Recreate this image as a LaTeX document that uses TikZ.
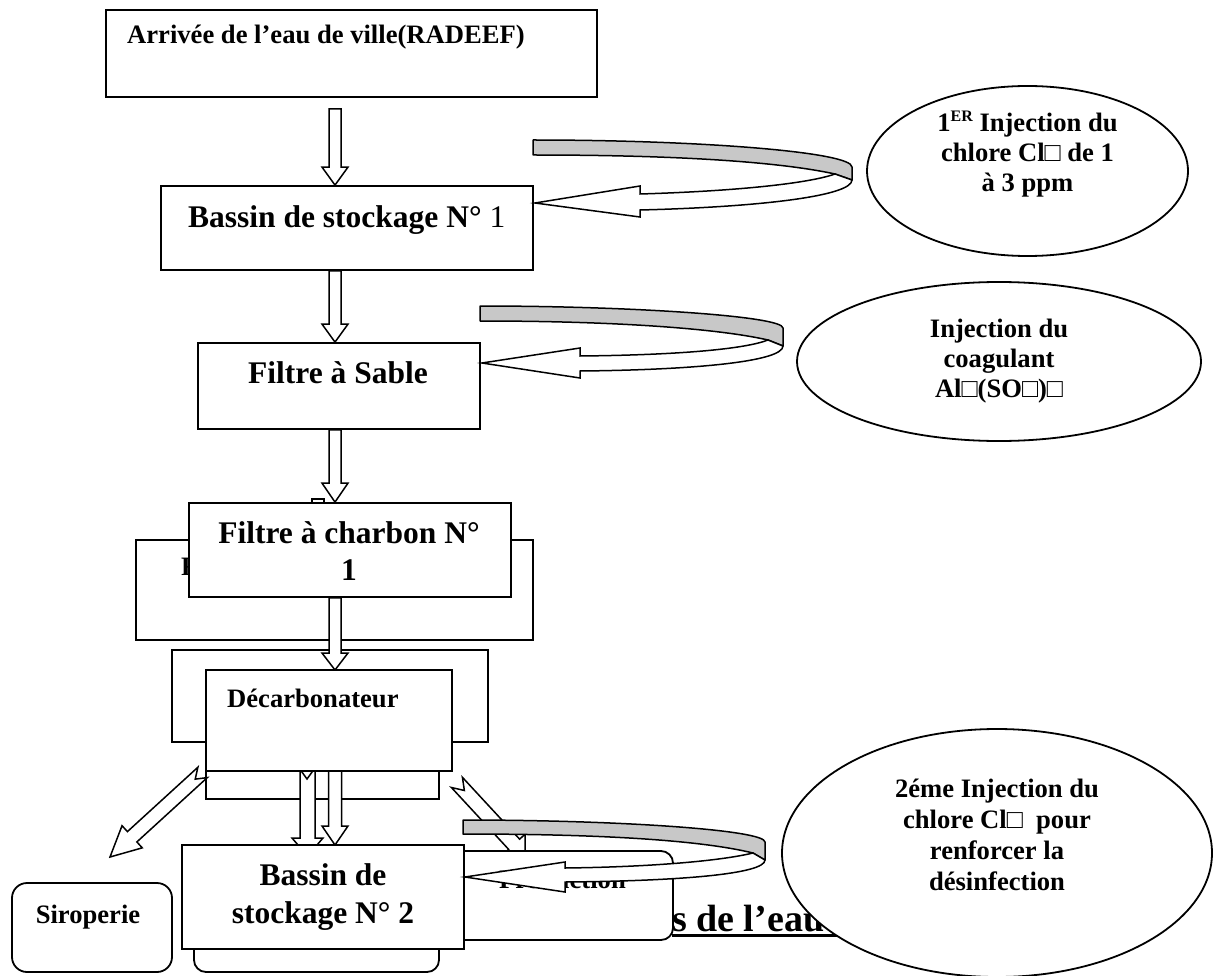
\documentclass[tikz,border=0pt]{standalone}
\usepackage{fontspec}
\setmainfont{Liberation Serif}
\usetikzlibrary{calc,shapes.geometric}
\definecolor{ribbon}{RGB}{200,200,200}
\newcommand\szS{\fontsize{26.6}{30}\selectfont}
\newcommand\szM{\fontsize{31.5}{37}\selectfont}
\newcommand\szT{\fontsize{38}{42}\selectfont}
\tikzset{
  box/.style={draw=black, fill=white, line width=1.8pt, inner sep=0pt, rectangle},
  rbox/.style={box, rounded corners=12pt},
  oval/.style={draw=black, fill=white, line width=1.8pt, ellipse, inner sep=0pt},
  blk/.style={draw=black, fill=white, line width=1.5pt, line join=miter},
  band/.style={draw=black, fill=ribbon, line width=1.5pt, line join=round},
  lbl/.style={inner sep=0pt, font=\bfseries\szS},
}
% hollow block arrow: [style]{tail}{tip}{shaft half width}{head half width}{head length}{notch depth}
\newcommand\blockarrow[7][blk]{%
  \draw[#1] let \p1=#2, \p2=#3, \n1={atan2(\y2-\y1,\x2-\x1)} in
    (\p2)
    -- ($(\p2)+(\n1:-#6pt)+(\n1+90:#5pt)$)
    -- ($(\p2)+(\n1:-#6pt)+(\n1+90:#4pt)$)
    -- ($(\p1)+(\n1+90:#4pt)$)
    -- ($(\p1)+(\n1:#7pt)$)
    -- ($(\p1)+(\n1-90:#4pt)$)
    -- ($(\p2)+(\n1:-#6pt)+(\n1-90:#4pt)$)
    -- ($(\p2)+(\n1:-#6pt)+(\n1-90:#5pt)$)
    -- cycle;}
\begin{document}
\begin{tikzpicture}[x=1pt,y=1pt]
\useasboundingbox (0,0) rectangle (1217,-976);
\fill[white] (0,0) rectangle (1217,-976);
\coordinate (colA) at (335,0);
\coordinate (colB) at (307.5,0);
\coordinate (colC) at (307,0);
\coordinate (decC) at (329,-720.5);
\coordinate (decSW) at (206,-771);
\coordinate (decSE) at (452,-771);
\coordinate (prodNW) at (440,-851);

% title (mostly hidden)
\node[lbl, anchor=base west, font=\bfseries\szT] (title) at (672,-931) {s de l’eau};
\draw[line width=3pt] ($(title.base west)+(0,-4)$) -- ++(200,0);

% Arrivee
\node[box, minimum width=491pt, minimum height=87pt] (arrivee) at (351.5,-53.5) {};
\node[lbl, anchor=base west] (t-arrivee) at (127,-44) {Arrivée de l’eau de ville(RADEEF)};

% Bassin 1
\node[box, minimum width=372pt, minimum height=84pt] (bassin1) at (347,-228) {};
\node[lbl, anchor=base west, font=\bfseries\szM] (t-bassin1) at (188,-228) {Bassin de stockage N°\mdseries\ 1};
\blockarrow{($(arrivee.south -| colA)+(0,-11)$)}{(bassin1.north -| colA)}{6}{13}{18}{0}

% injection 1 curved arrow
\draw[band] (533,-140) .. controls (700,-140) and (852,-152) .. (852,-167) -- (852,-180) -- (835,-174) .. controls (780,-162) and (680,-155) .. (533,-155) -- cycle;
\draw[blk] (852,-180) -- (835,-174) .. controls (810,-183) and (740,-191) .. (640,-194) -- (640,-186) -- (535,-203) -- (640,-217) -- (640,-210) .. controls (760,-207) and (852,-196) .. (852,-180) -- cycle;

% Filtre a sable
\node[box, minimum width=282pt, minimum height=86pt] (sable) at (339,-386) {};
\node[lbl, anchor=base west, font=\bfseries\szM] (t-sable) at (248,-383) {Filtre à Sable};
\blockarrow{(bassin1.south -| colA)}{(sable.north -| colA)}{6}{13}{18}{0}

% injection 2 curved arrow
\draw[band] (480,-306) .. controls (630,-306) and (783,-316) .. (783,-328) -- (783,-346) -- (768,-340) .. controls (720,-329) and (620,-321) .. (480,-321) -- cycle;
\draw[blk] (783,-346) -- (768,-340) .. controls (745,-349) and (680,-355) .. (580,-356) -- (580,-348) -- (482,-363) -- (580,-378) -- (580,-371) .. controls (690,-370) and (783,-362) .. (783,-346) -- cycle;

% hidden box behind charbon
\node[box, minimum width=397pt, minimum height=100pt] (hidF) at (334.5,-590) {};
\node[lbl, anchor=base west] (t-hidF) at (181,-575) {F};
\draw[blk] (312,-499) rectangle (324,-515);

% Filtre a charbon
\node[box, minimum width=322pt, minimum height=94pt] (charbon) at (350,-550) {};
\node[lbl, anchor=base, font=\bfseries\szM] (t-charbon) at (349,-543) {\begin{tabular}[t]{@{}c@{}}Filtre à charbon N°\\1\end{tabular}};
\blockarrow{(sable.south -| colA)}{(charbon.north -| colA)}{6}{13}{19}{0}

% boxes behind decarbonateur
\node[box, minimum width=316pt, minimum height=92pt] (hid2) at (330,-696) {};
\blockarrow{(charbon.south -| colA)}{($(decC -| colA)+(0,50.5)$)}{6}{13}{17}{0}
\node[box, minimum width=233pt, minimum height=79pt] (hid3) at (322.5,-759.5) {};
\node[rbox, minimum width=245pt, minimum height=72pt] (hidround) at (316.5,-936) {};

% arrows leaving the decarbonateur (tails hidden under it)
\blockarrow{(decC -| colB)}{($(decSW -| colB)+(0,-85)$)}{7.5}{15.5}{18}{0}
\blockarrow{(decC -| colA)}{($(decSW -| colA)+(0,-74)$)}{6.5}{13}{19}{0}
\blockarrow{(decC -| colC)}{($(decSW -| colC)+(0,-8)$)}{6}{13}{18}{0}

% decarbonateur
\node[box, minimum width=246pt, minimum height=101pt] (decarb) at (decC) {};
\node[lbl, anchor=base west] (t-decarb) at (227,-707) {Décarbonateur};

% diagonal arrows
\blockarrow{($(decarb.south west)+(-2.5,-0.5)$)}{($(decSW)+(-96,-86)$)}{7}{15}{30}{10}
\blockarrow{($(decarb.south east)+(4,-10.5)$)}{($(prodNW)+(85,-5)$)}{7.5}{15}{16}{11}

% Siroperie / Production boxes
\node[rbox, rounded corners=15pt, minimum width=160pt, minimum height=89pt] (siroperie) at (92,-927.5) {};
\node[lbl, anchor=base] (t-siroperie) at (88,-923) {Siroperie};
\node[rbox, minimum width=233pt, minimum height=89pt] (production) at ($(prodNW)+(116.5,-44.5)$) {};
\node[lbl, anchor=base west] (t-production) at (499,-888) {Production};

% Bassin 2
\node[box, minimum width=282pt, minimum height=104pt] (bassin2) at (323,-897) {};
\node[lbl, anchor=base, font=\bfseries\fontsize{31.5}{38}\selectfont] (t-bassin2) at (323,-885) {\begin{tabular}[t]{@{}c@{}}Bassin de\\stockage N° 2\end{tabular}};

% injection 3 curved arrow
\draw[band] (463,-820) .. controls (620,-820) and (765,-830) .. (765,-842) -- (765,-860) -- (753,-853) .. controls (700,-840) and (600,-834) .. (463,-834) -- cycle;
\draw[blk] (765,-860) -- (753,-853) .. controls (720,-861) and (650,-867) .. (565,-868) -- (565,-862) -- (465,-877) -- (565,-892) -- (565,-882) .. controls (680,-881) and (765,-874) .. (765,-860) -- cycle;

% ellipses
\node[oval, minimum width=321pt, minimum height=170pt] (inj1) at (1027.5,-171) {};
\node[lbl, anchor=base] (t-inj1) at (1027.5,-132) {\begin{tabular}[t]{@{}c@{}}1\raisebox{10pt}{\fontsize{16}{16}\selectfont ER} Injection du\\chlore Cl□ de 1\\à 3 ppm\end{tabular}};
\node[oval, minimum width=404pt, minimum height=159pt] (inj2) at (999,-361.5) {};
\node[lbl, anchor=base] (t-inj2) at (999,-337) {\begin{tabular}[t]{@{}c@{}}Injection du\\coagulant\\Al□(SO□)□\end{tabular}};
\node[oval, minimum width=430pt, minimum height=248pt] (inj3) at (997,-853) {};
\node[lbl, anchor=base, font=\bfseries\fontsize{26.6}{31}\selectfont] (t-inj3) at (997,-797) {\begin{tabular}[t]{@{}c@{}}2éme Injection du\\chlore Cl□~ pour\\renforcer la\\désinfection\end{tabular}};
\end{tikzpicture}
\end{document}
